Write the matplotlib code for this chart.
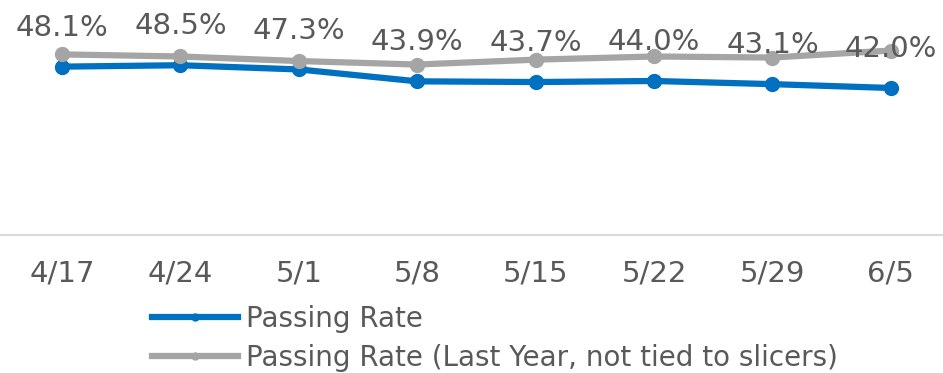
import matplotlib.pyplot as plt
from matplotlib.lines import Line2D

plt.rcParams['font.family'] = 'DejaVu Sans'

# weekly passing rate, this year vs last year (percent)
weeks = ['4/17', '4/24', '5/1', '5/8', '5/15', '5/22', '5/29', '6/5']
passing_rate = [48.1, 48.5, 47.3, 43.9, 43.7, 44.0, 43.1, 42.0]
last_year = [51.6, 51.0, 49.7, 48.7, 50.1, 51.0, 50.7, 52.7]

blue = '#0070C0'
gray = '#A5A5A5'
text_color = '#595959'

fig = plt.figure(figsize=(9.43, 3.73), dpi=100)
ax = fig.add_axes([0.0, 0.370, 1.0, 0.563])

x = list(range(len(weeks)))
ax.plot(x, passing_rate, color=blue, lw=4.5, marker='o', ms=10, zorder=3)
ax.plot(x, last_year, color=gray, lw=4.5, marker='o', ms=10, zorder=4)

# value labels for this year's rate
for xi, v in zip(x, passing_rate):
    ax.annotate(f'{v:.1f}%', (xi, v), xytext=(0, 28), textcoords='offset points',
                ha='center', va='center', fontsize=21, color=text_color, zorder=5)

ax.set_xlim(-0.524, 7.44)
ax.set_ylim(0, 60)
ax.set_xticks(x)
ax.set_xticklabels(weeks, fontsize=21, color=text_color)
ax.tick_params(axis='x', length=0, pad=18)
ax.set_yticks([])
for side in ['top', 'left', 'right']:
    ax.spines[side].set_visible(False)
ax.spines['bottom'].set_color('#D9D9D9')
ax.spines['bottom'].set_linewidth(1.5)

handles = [
    Line2D([], [], color=blue, lw=4.5, marker='o', ms=5),
    Line2D([], [], color=gray, lw=4.5, marker='o', ms=5),
]
labels = ['Passing Rate', 'Passing Rate (Last Year, not tied to slicers)']
fig.legend(handles, labels, loc='upper left', bbox_to_anchor=(152 / 943, 1 - 305 / 373),
           frameon=False, fontsize=20, labelcolor=text_color, handlelength=3.1,
           handletextpad=0.3, labelspacing=0.4, borderpad=0, borderaxespad=0)

fig.savefig('out.png', dpi=100)
